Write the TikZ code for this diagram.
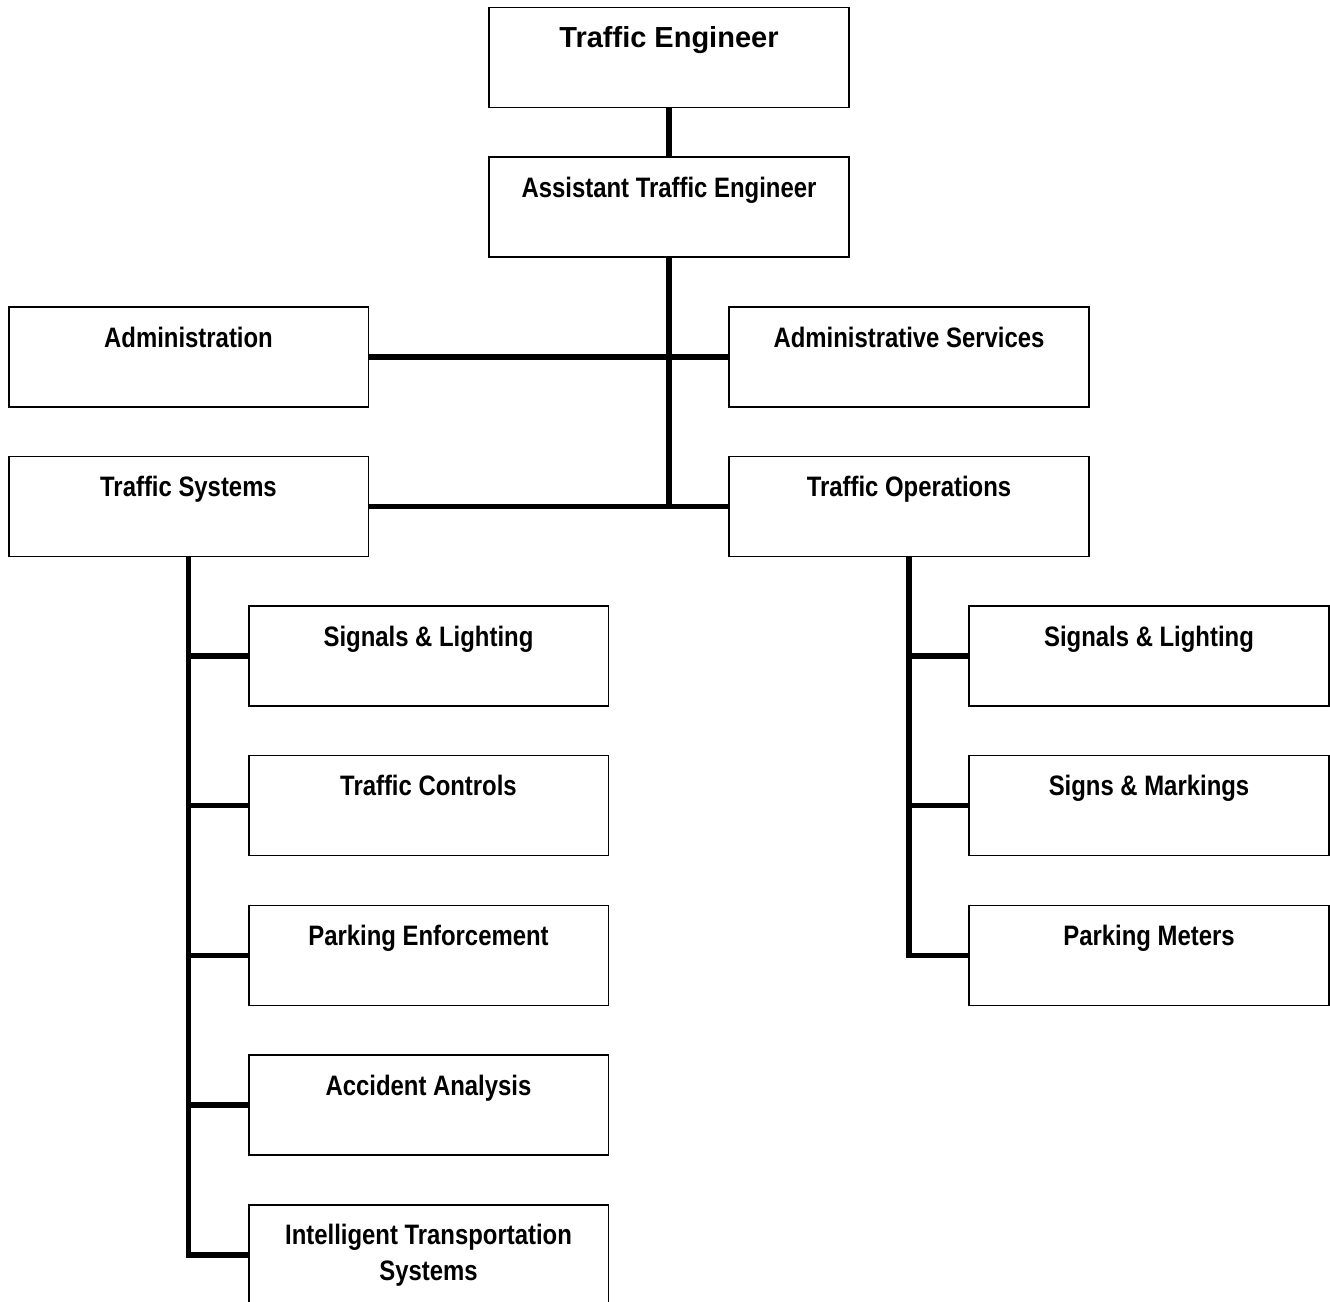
\documentclass[tikz,border=0pt]{standalone}
\usepackage{fontspec}
\setmainfont{Liberation Sans}
\newfontfamily\narrowfont{Liberation Sans}[FakeStretch=0.85]
\usetikzlibrary{positioning}
\tikzset{
  orgline/.style={line width=3.1pt},
  unitbox/.style={draw, line width=1.1pt, minimum width=7.2cm, minimum height=2cm, inner ysep=0.4cm, text height=0.4cm, text depth=0.8cm, align=center, font=\narrowfont\bfseries\fontsize{16}{20}\selectfont},
  headbox/.style={unitbox, font=\bfseries\fontsize{16.5}{20}\selectfont}
}
\begin{document}
\begin{tikzpicture}[x=0.02cm, y=-0.02cm]
  \useasboundingbox (0,0) rectangle (1330,1302);
  % top of the chart
  \node[headbox] (te) at (669,57.5) {Traffic Engineer};
  \node[unitbox] (ate) at (669,207) {Assistant Traffic Engineer};
  \node[unitbox] (adm) at (188.5,357) {Administration};
  \node[unitbox] (asv) at (909,357) {Administrative Services};
  \node[unitbox] (ts) at (188.5,506.5) {Traffic Systems};
  \node[unitbox] (to) at (909,506.5) {Traffic Operations};
  % traffic systems units
  \node[unitbox] (tsa) at (428.5,656) {Signals \& Lighting};
  \node[unitbox] (tsb) at (428.5,805.5) {Traffic Controls};
  \node[unitbox] (tsc) at (428.5,955.5) {Parking Enforcement};
  \node[unitbox] (tsd) at (428.5,1105) {Accident Analysis};
  \node[unitbox, text height=1.1cm, text depth=0.1cm] (tse) at (428.5,1255) {Intelligent Transportation\\ Systems};
  % traffic operations units
  \node[unitbox] (toa) at (1149,656) {Signals \& Lighting};
  \node[unitbox] (tob) at (1149,805.5) {Signs \& Markings};
  \node[unitbox] (toc) at (1149,955.5) {Parking Meters};
  % connectors
  \draw[orgline] (te) -- (ate);
  \draw[orgline] (ate.south) -- (ate.south |- ts.east);
  \draw[orgline] (adm) -- (asv);
  \draw[orgline] (ts) -- (to);
  \foreach \u in {tsa,tsb,tsc,tsd,tse}
    \draw[orgline] (ts.south) |- (\u.west);
  \foreach \u in {toa,tob,toc}
    \draw[orgline] (to.south) |- (\u.west);
\end{tikzpicture}
\end{document}
